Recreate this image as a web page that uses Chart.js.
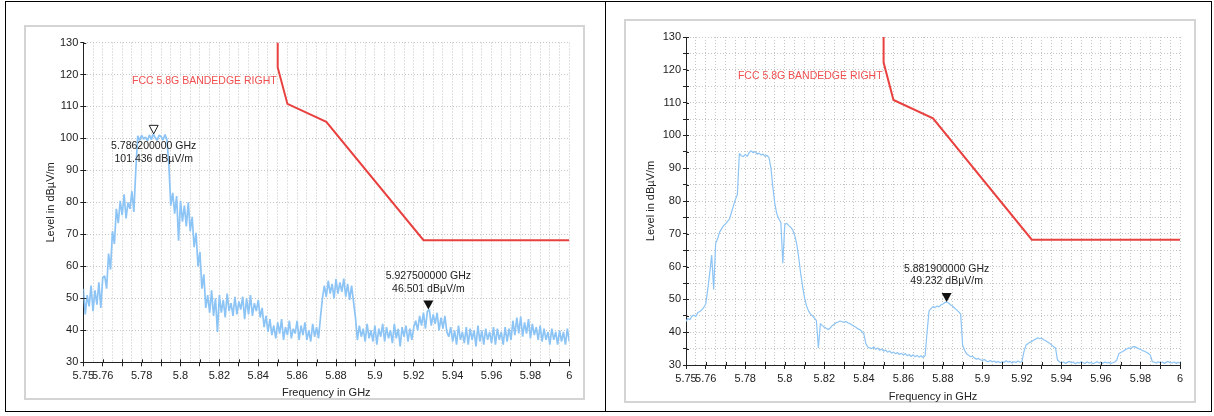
<!DOCTYPE html>
<html>
<head>
<meta charset="utf-8">
<script src="https://cdn.jsdelivr.net/npm/chart.js@4.4.1/dist/chart.umd.min.js"></script>
<style>
body { margin:0; background:#fff; width:1214px; height:416px; position:relative; overflow:hidden; }
.frame { position:absolute; border:1px solid #000; box-sizing:border-box; }
.box { position:absolute; border:2px solid #d4d4d4; box-sizing:border-box; }
.holder { position:absolute; }
</style>
</head>
<body>
<div class="frame" style="left:5px;top:1px;width:1207px;height:411px"></div>
<div class="frame" style="left:605px;top:1px;width:1px;height:411px;border-width:0 0 0 1px"></div>
<div class="box" style="left:24px;top:25px;width:561px;height:375px"></div>
<div class="holder" style="left:24px;top:25px;width:561px;height:375px"><canvas id="chartLeft"></canvas></div>
<div class="box" style="left:624px;top:19px;width:572px;height:384px"></div>
<div class="holder" style="left:624px;top:19px;width:572px;height:384px"><canvas id="chartRight"></canvas></div>
<script>
// sweep: 5.75 .. 6 GHz, one reading every MHz
var sweepStart = 5.75;
var sweepStep = 0.001;

// left plot, level in dBuV/m
var leftLevels = [
	53, 45, 51, 47.5, 54, 46, 52.5, 48, 55, 47,
	56.5, 57, 53, 64, 59, 71, 67, 78, 73.5, 80.5,
	76, 82.5, 75, 80, 78, 83.5, 77, 90, 100.8, 99.4,
	101.0, 99.8, 100.4, 99.3, 101.1, 99.6, 101.4, 100.2, 99.4, 101.0,
	100.6, 99.5, 101.2, 99.7, 92, 79, 83, 76.5, 82, 68,
	80.5, 74, 79, 72.5, 80, 71, 75.5, 66, 70.5, 60,
	64.5, 53, 57.5, 47, 51, 45.5, 52.5, 44.5, 50, 39.5,
	51, 45.5, 49.5, 44, 51.5, 46, 48.5, 44.5, 50.5, 45,
	49, 46.5, 50.5, 43.5, 50, 45, 51, 44.5, 48.5, 46,
	49.5, 44, 47, 41, 44.5, 39.5, 43.5, 38.5, 41.5, 37.5,
	42.5, 39, 43.5, 37, 41, 38.5, 43, 37.5, 40.5, 39,
	43, 37, 41.5, 38.5, 42.5, 37, 40, 36.5, 42, 38,
	41, 37.5, 44, 50, 54, 50.5, 55.5, 51.5, 54.5, 50,
	56, 51.5, 55, 52, 56.2, 50.5, 54.5, 49.5, 54, 49,
	44, 37, 41.5, 38, 40.5, 36.5, 42, 37.5, 40, 36.5,
	41.5, 35.5, 40.5, 38, 42, 36.5, 41, 37.5, 40, 36,
	42, 37.5, 40.5, 35, 41, 38, 41.5, 36.5, 40.5, 37,
	41, 43, 40, 44.5, 41.5, 45.5, 40.5, 46, 46.5, 41.5,
	45, 42, 45.5, 40, 44, 40.5, 44.5, 39.5, 38, 41,
	36.5, 40, 35.5, 41.5, 37, 39.5, 36, 41, 35.5, 40.5,
	37, 40, 35, 41.5, 36.5, 40, 35.5, 40.5, 37, 39.5,
	36, 41, 35.5, 40.5, 37, 39.5, 35.5, 41, 36.5, 40.5,
	37, 43, 38.5, 44, 39, 44.3, 38, 42.5, 39, 43.5,
	37.5, 42, 38.5, 41, 37, 41.5, 36.5, 40.5, 37, 39.5,
	35.5, 40.5, 37, 39.5, 35.5, 40, 36.5, 39.5, 35.5, 40.5, 36.5
];

// right plot, level in dBuV/m
var rightLevels = [
	43.3, 44.2, 43.8, 44.9, 45.2, 44.8, 46.0, 46.3, 46.8, 47.6,
	48.6, 53, 58, 63.5, 53, 67, 68.5, 70.5, 71.5, 72.5,
	73, 73.8, 74.5, 76.5, 78.5, 80.5, 82, 94.5, 93.8, 93.5,
	94.2, 93.6, 94.8, 95.3, 94.7, 95.1, 94.3, 94.6, 94.0, 94.3,
	93.6, 93.9, 93.2, 90, 84, 79, 76, 74.5, 73.5, 61,
	72.8, 73.2, 72.5, 72, 71.2, 69.5, 67, 63, 58, 54,
	50.5, 48, 46.5, 45.5, 45, 44.3, 43.5, 35.2, 42.6, 42,
	41.5, 41.2, 40.8, 41.3, 42.0, 42.4, 42.9, 43.1, 43.4, 43.2,
	43.0, 43.3, 42.8, 42.6, 42.2, 41.8, 41.5, 41.0, 40.8, 40.2,
	39.5, 36.5, 35.5, 35.2, 35.0, 35.5, 34.8, 35.2, 34.5, 34.9,
	34.2, 34.6, 33.9, 34.3, 33.6, 34.0, 33.4, 33.8, 33.2, 33.6,
	33.0, 33.5, 32.8, 33.2, 32.6, 33.1, 32.5, 32.9, 32.4, 32.8,
	32.3, 32.8, 40, 46.5, 47.2, 47.8, 47.5, 48.0, 47.7, 48.3,
	48.6, 49.0, 49.232, 48.8, 48.3, 47.9, 47.3, 46.8, 46.2, 45.5,
	36, 34.5, 33.4, 33.0, 32.5, 32.7, 32.1, 31.8, 32.0, 31.6,
	31.4, 31.7, 31.2, 31.0, 31.4, 30.9, 31.2, 30.8, 31.1, 30.7,
	31.0, 30.8, 31.3, 30.9, 31.1, 30.6, 31.0, 30.8, 31.2, 30.9,
	31.0, 34, 36.0, 36.5, 36.9, 37.2, 37.6, 37.9, 38.3, 38.0,
	38.2, 37.7, 37.4, 37.0, 36.6, 36.1, 35.6, 35.2, 31.5, 31.0,
	30.6, 30.9, 30.5, 30.8, 31.1, 30.7, 30.9, 30.4, 30.8, 30.6,
	31.0, 30.7, 30.5, 30.9, 30.6, 30.8, 30.4, 30.7, 31.0, 30.6,
	30.8, 30.5, 30.9, 30.6, 30.8, 30.5, 30.7, 30.9, 31.5, 33.4,
	33.8, 34.1, 34.5, 34.9, 35.2, 35.0, 35.5, 35.6, 35.3, 35.0,
	34.8, 34.4, 34.2, 33.9, 33.5, 33.0, 31.0, 30.9, 30.6, 31.0,
	30.7, 30.9, 30.5, 30.8, 31.1, 30.7, 30.6, 30.9, 30.5, 30.8, 30.6
];

// FCC 5.8G band edge (right) limit line
var limitFreqs = [5.85, 5.85, 5.855, 5.875, 5.925, 6.0];
var limitLevels = [130, 122.2, 110.8, 105.2, 68.2, 68.2];
var limitLabel = 'FCC 5.8G BANDEDGE RIGHT';
var limitLabelFreq = 5.85;
var limitLabelLevel = 118;

// markers
var leftMarkerFreqs = [5.7862, 5.9275];
var leftMarkerLevels = [101.436, 46.501];
var rightMarkerFreqs = [5.8819];
var rightMarkerLevels = [49.232];

// axes
var freqMin = 5.75, freqMax = 6, freqGridStep = 0.005;
var freqTickLabels = ['5.75', '5.76', '5.78', '5.8', '5.82', '5.84', '5.86', '5.88', '5.9', '5.92', '5.94', '5.96', '5.98', '6'];
var levelMin = 30, levelMax = 130, levelStep = 5;
var levelTickLabels = ['30', '40', '50', '60', '70', '80', '90', '100', '110', '120', '130'];

var FONT = '"Liberation Sans", Arial, sans-serif';
Chart.defaults.font.family = FONT;
Chart.defaults.font.size = 11;
Chart.defaults.color = '#222';

function isMajorFreq(v){
	return Math.abs(Math.round(v * 100) - v * 100) < 1e-6;
}

function toPoints(levels){
	return levels.map(function(v, i){ return {x: sweepStart + i * sweepStep, y: v}; });
}

var overlayPlugin = {
	id: 'overlay',
	afterDatasetsDraw: function(chart, args, opts){
		var ctx = chart.ctx, xs = chart.scales.x, ys = chart.scales.y, area = chart.chartArea;
		ctx.save();
		// inner half of the axis ticks
		ctx.strokeStyle = '#222';
		ctx.lineWidth = 1;
		ctx.beginPath();
		xs.ticks.forEach(function(t){
			if (!isMajorFreq(t.value)) return;
			var px = Math.round(xs.getPixelForValue(t.value)) + 0.5;
			ctx.moveTo(px, area.bottom);
			ctx.lineTo(px, area.bottom - 3);
		});
		ys.ticks.forEach(function(t){
			var py = Math.round(ys.getPixelForValue(t.value)) + 0.5;
			ctx.moveTo(area.left, py);
			ctx.lineTo(area.left + 3, py);
		});
		ctx.stroke();

		ctx.font = '10.5px ' + FONT;
		ctx.fillStyle = '#ef4f4f';
		ctx.textAlign = 'right';
		ctx.textBaseline = 'middle';
		ctx.fillText(limitLabel, xs.getPixelForValue(limitLabelFreq) - 1, ys.getPixelForValue(limitLabelLevel));

		ctx.textAlign = 'center';
		opts.freqs.forEach(function(f, k){
			var lvl = opts.levels[k];
			var px = xs.getPixelForValue(f), py = ys.getPixelForValue(lvl);
			var line1 = f.toFixed(9) + ' GHz', line2 = lvl.toFixed(3) + ' dB\u00b5V/m';
			ctx.beginPath();
			if (opts.hollow[k]) {
				ctx.moveTo(px - 4.5, py - 8.5);
				ctx.lineTo(px + 4.5, py - 8.5);
				ctx.lineTo(px, py);
				ctx.closePath();
				ctx.fillStyle = '#fff';
				ctx.fill();
				ctx.strokeStyle = '#222';
				ctx.stroke();
				ctx.fillStyle = '#222';
				ctx.fillText(line1, px, py + 12.6);
				ctx.fillText(line2, px, py + 25.2);
			} else {
				ctx.moveTo(px - 5, py - 9);
				ctx.lineTo(px + 5, py - 9);
				ctx.lineTo(px, py);
				ctx.closePath();
				ctx.fillStyle = '#111';
				ctx.fill();
				ctx.fillStyle = '#222';
				ctx.fillText(line1, px, py - 33);
				ctx.fillText(line2, px, py - 20.5);
			}
		});
		ctx.restore();
	}
};

function makeChart(id, levels, traceWidth, mFreqs, mLevels, mHollow, g){
	var ctx = document.getElementById(id);
	return new Chart(ctx, {
		type: 'line',
		data: {
			datasets: [{
				data: toPoints(levels),
				borderColor: 'rgb(140,196,245)',
				borderWidth: traceWidth,
				borderJoinStyle: 'bevel',
				pointRadius: 0,
				tension: 0,
				order: 2
			}, {
				data: limitFreqs.map(function(f, i){ return {x: f, y: limitLevels[i]}; }),
				borderColor: '#e8413f',
				borderWidth: 2,
				pointRadius: 0,
				tension: 0,
				order: 1
			}]
		},
		options: {
			responsive: true,
			maintainAspectRatio: false,
			animation: false,
			events: [],
			layout: { padding: {left: 0, top: g.top, right: g.right, bottom: 0} },
			plugins: {
				legend: { display: false },
				tooltip: { enabled: false },
				overlay: { freqs: mFreqs, levels: mLevels, hollow: mHollow }
			},
			scales: {
				x: {
					type: 'linear',
					min: freqMin,
					max: freqMax,
					afterBuildTicks: function(scale){
						var t = [];
						for (var k = 0; k <= Math.round((freqMax - freqMin) / freqGridStep); k++) {
							t.push({value: Math.round((freqMin + k * freqGridStep) * 1000) / 1000});
						}
						scale.ticks = t;
					},
					afterFit: function(scale){ scale.height = g.xHeight; },
					ticks: {
						autoSkip: false,
						maxRotation: 0,
						minRotation: 0,
						padding: 3,
						color: '#222',
						callback: function(v){
							var s = String(Math.round(v * 1000) / 1000);
							return freqTickLabels.indexOf(s) >= 0 ? s : '';
						}
					},
					grid: {
						color: '#c4c4c4',
						tickLength: 4,
						tickBorderDash: [],
						tickColor: function(c){ return (c.tick && isMajorFreq(c.tick.value)) ? '#222' : 'rgba(0,0,0,0)'; }
					},
					border: { color: '#222', width: 1, dash: [1, 2] },
					title: { display: true, text: 'Frequency in GHz', color: '#222', font: {size: 11, lineHeight: 1}, padding: {top: 0, bottom: g.xTitlePad} }
				},
				y: {
					min: levelMin,
					max: levelMax,
					afterFit: function(scale){ scale.width = g.yWidth; },
					ticks: {
						stepSize: levelStep,
						padding: 2,
						color: '#222',
						callback: function(v){
							var s = String(v);
							return levelTickLabels.indexOf(s) >= 0 ? s : '';
						}
					},
					grid: { color: '#c4c4c4', tickLength: 3, tickBorderDash: [], tickColor: '#222' },
					border: { color: '#222', width: 1, dash: [1, 2] },
					title: { display: true, text: 'Level in dB\u00b5V/m', color: '#222', font: {size: 11, lineHeight: 1}, padding: {top: g.yTitlePad, bottom: 0} }
				}
			}
		},
		plugins: [overlayPlugin]
	});
}

makeChart('chartLeft', leftLevels, 1.7, leftMarkerFreqs, leftMarkerLevels, [true, false],
	{top: 17.5, right: 15.7, xHeight: 37.7, yWidth: 59.3, xTitlePad: 2, yTitlePad: 21});
makeChart('chartRight', rightLevels, 1.2, rightMarkerFreqs, rightMarkerLevels, [false],
	{top: 18, right: 16, xHeight: 38, yWidth: 62, xTitlePad: 1, yTitlePad: 21.5});
</script>
</body>
</html>
